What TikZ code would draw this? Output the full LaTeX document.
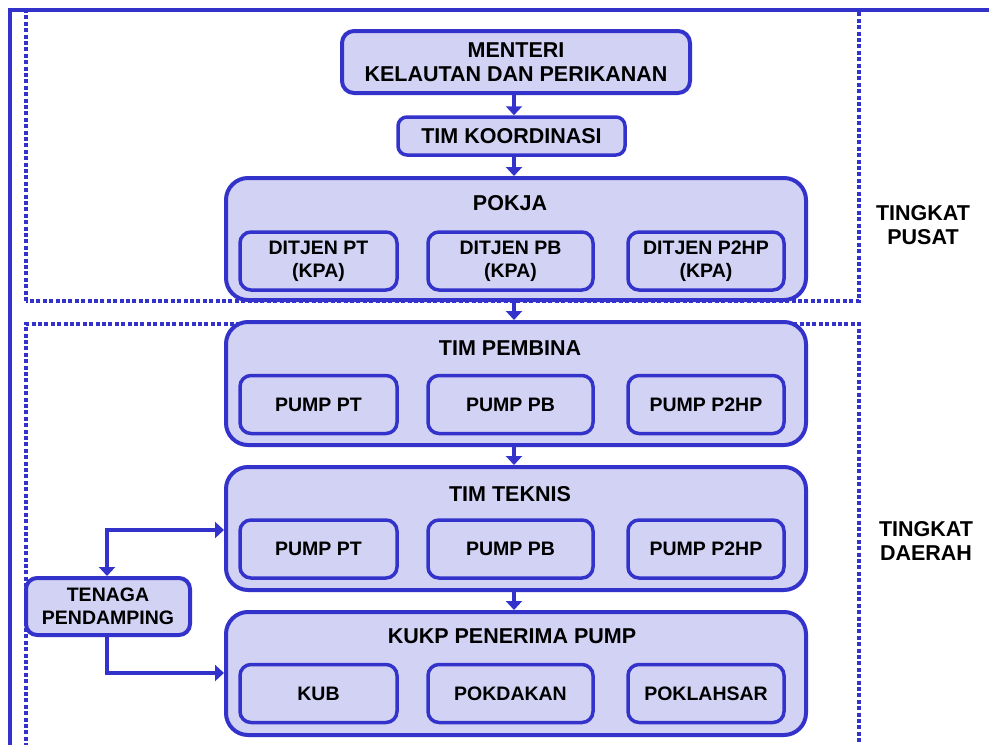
\documentclass[tikz,border=0pt]{standalone}
\usepackage{fontspec}
\setmainfont{Liberation Sans}
\usetikzlibrary{arrows.meta}
\definecolor{bfill}{RGB}{210,210,245}
\definecolor{bline}{RGB}{51,51,204}
\tikzset{
  txt/.style={font=\fontsize{19.5}{23}\selectfont\bfseries, align=center, text=black},
  txtL/.style={font=\fontsize{21.5}{24.5}\selectfont\bfseries, align=center, text=black},
  box/.style={draw=bline, fill=bfill, line width=4pt, rounded corners=12pt, inner sep=0pt},
  bigbox/.style={box, rounded corners=22pt, minimum width=580pt, minimum height=122pt},
  smallbox/.style={box, txt, line width=3.5pt, rounded corners=11pt, minimum height=58pt},
  dotline/.style={draw=bline, line width=4pt, dash pattern=on 4pt off 2.4pt},
  arr/.style={draw=bline, line width=4pt, -{Triangle[width=16pt,length=9pt]}},
}
\begin{document}
\begin{tikzpicture}[x=1pt,y=-1pt]
\useasboundingbox (0,0) rectangle (989,745);
\clip (0,0) rectangle (989,745);
% frames
\draw[bline, line width=4pt] (10,760) -- (10,10) -- (995,10);
\draw[dotline] (26,301) -- (26,10) -- (859,10) -- (859,301) -- cycle;
\draw[dotline] (26,760) -- (26,324) -- (859,324) -- (859,760);
% top
\node[box, txtL, minimum width=348pt, minimum height=62pt] (men) at (516,62) {MENTERI\\KELAUTAN DAN PERIKANAN};
\node[box, txtL, line width=3.5pt, rounded corners=9pt, minimum width=227pt, minimum height=38pt] (tk) at (511.5,136) {TIM KOORDINASI};
% big boxes
\node[bigbox] (pokja) at (516,239) {};
\node[bigbox, minimum height=123pt] (pemb) at (516,383.5) {};
\node[bigbox, minimum height=123pt] (tekn) at (516,528.5) {};
\node[bigbox, minimum height=123pt] (kukp) at (516,673.5) {};
\node[txtL] (tpokja) at (510,203) {POKJA};
\node[txtL] (tpemb) at (510,348) {TIM PEMBINA};
\node[txtL] (ttekn) at (510,494) {TIM TEKNIS};
\node[txtL] (tkukp) at (512,636) {KUKP PENERIMA PUMP};
% inner boxes
\node[smallbox, minimum width=157pt] (d1) at (318.5,261) {DITJEN PT\\(KPA)};
\node[smallbox, minimum width=165pt] (d2) at (510.5,261) {DITJEN PB\\(KPA)};
\node[smallbox, minimum width=156pt] (d3) at (706,261) {DITJEN P2HP\\(KPA)};
\node[smallbox, minimum width=157pt] (p1) at (318.5,404.5) {PUMP PT};
\node[smallbox, minimum width=165pt] (p2) at (510.5,404.5) {PUMP PB};
\node[smallbox, minimum width=156pt] (p3) at (706,404.5) {PUMP P2HP};
\node[smallbox, minimum width=157pt] (q1) at (318.5,549) {PUMP PT};
\node[smallbox, minimum width=165pt] (q2) at (510.5,549) {PUMP PB};
\node[smallbox, minimum width=156pt] (q3) at (706,549) {PUMP P2HP};
\node[smallbox, minimum width=157pt] (k1) at (318.5,693.5) {KUB};
\node[smallbox, minimum width=165pt] (k2) at (510.5,693.5) {POKDAKAN};
\node[smallbox, minimum width=156pt] (k3) at (706,693.5) {POKLAHSAR};
% tenaga
\node[smallbox, line width=4pt, minimum width=164pt, minimum height=57pt] (ten) at (108,606.5) {TENAGA\\PENDAMPING};
% labels
\node[txtL] (lp) at (923,225) {TINGKAT\\PUSAT};
\node[txtL] (ld) at (926,541) {TINGKAT\\DAERAH};
% arrows
\draw[arr] (men.south -| 514,0) -- (tk.north -| 514,0);
\draw[arr] (tk.south -| 514,0) -- (pokja.north -| 514,0);
\draw[arr] (pokja.south -| 514,0) -- (pemb.north -| 514,0);
\draw[arr] (pemb.south -| 514,0) -- (tekn.north -| 514,0);
\draw[arr] (tekn.south -| 514,0) -- (kukp.north -| 514,0);
\coordinate (c1) at (107,530);
\coordinate (c2) at (107,673);
\draw[draw=bline, line width=4pt, {Triangle[width=16pt,length=9pt]}-{Triangle[width=16pt,length=9pt]}] (ten.north -| c1) -- (c1) -- (c1 -| tekn.west);
\draw[arr] (ten.south -| c2) -- (c2) -- (c2 -| kukp.west);
\end{tikzpicture}
\end{document}
